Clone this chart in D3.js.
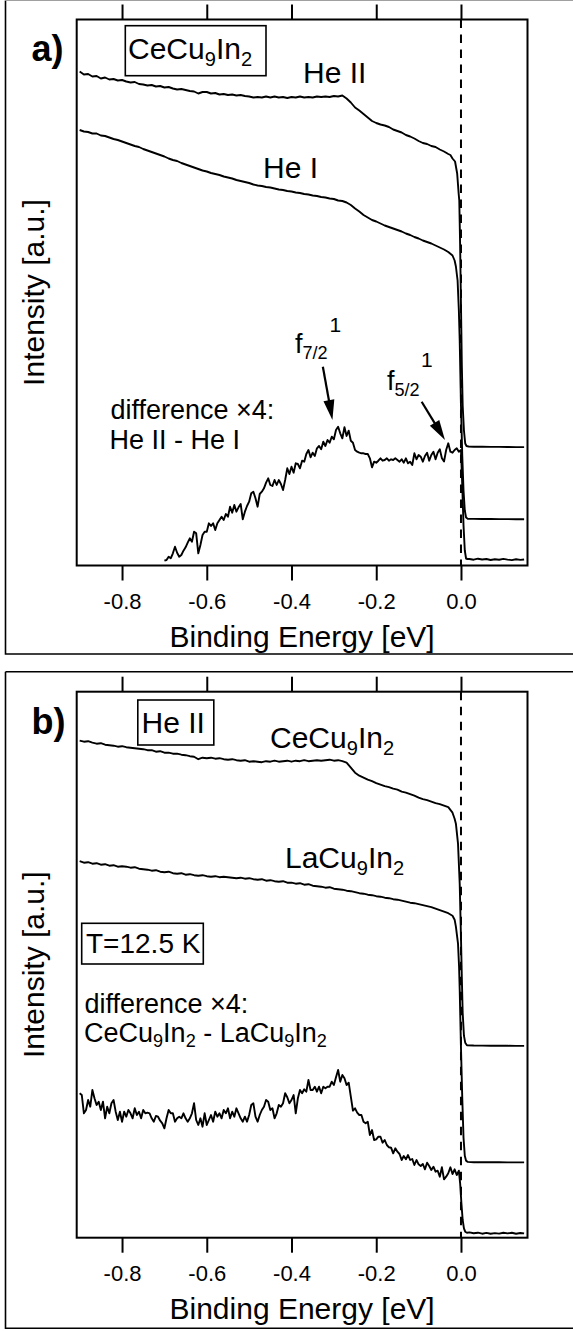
<!DOCTYPE html>
<html><head><meta charset="utf-8">
<script src="https://cdn.jsdelivr.net/npm/d3@7"></script>
<style>
html,body{margin:0;padding:0;background:#fff;}
svg{display:block;font-family:"Liberation Sans",Arial,Helvetica,sans-serif;}
text{white-space:pre;fill:#000;}
</style></head><body>
<svg id="chart" width="573" height="1331"></svg>
<script>
// ---------------- DATA ----------------
const energyDomain = [-0.907, 0.157];
const energyTicks = [-0.8, -0.6, -0.4, -0.2, 0.0];
const intensityDomain = [0, 546];

// Panel a: CeCu9In2, He II spectrum
const aHeII = [[-0.90,494],[-0.89,491],[-0.88,491.5],[-0.87,489],[-0.86,489.5],[-0.85,487],[-0.84,488],[-0.83,486],[-0.82,486.5],[-0.81,485],[-0.80,485.5],[-0.79,484],[-0.78,483],[-0.77,483.5],[-0.76,481.5],[-0.75,481],[-0.74,480],[-0.73,480.5],[-0.72,479],[-0.71,479.5],[-0.70,478],[-0.69,478.5],[-0.68,477],[-0.67,476],[-0.66,476.5],[-0.65,475.5],[-0.64,474.5],[-0.63,474],[-0.62,472],[-0.61,473.5],[-0.60,473.5],[-0.59,472],[-0.58,472.5],[-0.57,471],[-0.56,471.5],[-0.55,470.5],[-0.54,471],[-0.53,470],[-0.52,470.5],[-0.51,469.5],[-0.50,469],[-0.49,468],[-0.48,468.5],[-0.47,468],[-0.46,469],[-0.45,468],[-0.44,469],[-0.43,468],[-0.42,468.5],[-0.41,467.5],[-0.40,468.5],[-0.39,468],[-0.38,469],[-0.37,468],[-0.36,468.5],[-0.35,468],[-0.34,469],[-0.33,468.5],[-0.32,469],[-0.31,468.5],[-0.30,469.5],[-0.29,469],[-0.28,470],[-0.27,467],[-0.26,463],[-0.25,458],[-0.24,455],[-0.23,451.5],[-0.22,448],[-0.21,444.5],[-0.20,442.5],[-0.19,441],[-0.18,440],[-0.17,438.5],[-0.16,436],[-0.15,434.5],[-0.14,433],[-0.13,430.5],[-0.12,429],[-0.11,427],[-0.10,424.5],[-0.09,422.5],[-0.08,421.5],[-0.07,419.5],[-0.06,418.5],[-0.05,416],[-0.04,414],[-0.03,411.5],[-0.025,410.5],[-0.02,407],[-0.014,404],[-0.009,392],[-0.0055,372],[-0.004,365],[-0.002,320],[0.000,260],[0.002,200],[0.004,160],[0.007,135],[0.010,122],[0.013,119.5],[0.018,119],[0.03,118.8],[0.05,118.8],[0.07,118.6],[0.09,118.6],[0.11,118.5],[0.13,118.4],[0.149,118.4]];

// Panel a: CeCu9In2, He I spectrum
const aHeI = [[-0.90,435.5],[-0.89,434],[-0.88,433.5],[-0.87,432],[-0.86,432],[-0.85,430],[-0.84,429.5],[-0.83,428],[-0.82,426.5],[-0.81,425.5],[-0.80,424],[-0.79,422.5],[-0.78,421],[-0.77,419.5],[-0.76,418.5],[-0.75,416.5],[-0.74,415],[-0.73,413.5],[-0.72,412],[-0.71,410.5],[-0.70,409],[-0.69,407],[-0.68,405.5],[-0.67,404.5],[-0.66,402.5],[-0.65,401],[-0.64,399.5],[-0.63,398],[-0.62,396.5],[-0.61,395],[-0.60,394],[-0.59,392.5],[-0.58,391.5],[-0.57,390.5],[-0.56,389],[-0.55,388],[-0.54,387],[-0.53,385.5],[-0.52,384.5],[-0.51,383.5],[-0.50,382.5],[-0.49,381],[-0.48,380],[-0.47,379.5],[-0.46,378.5],[-0.45,378],[-0.44,377],[-0.43,376],[-0.42,375.5],[-0.41,374.5],[-0.40,374],[-0.39,373],[-0.38,372.5],[-0.37,371.5],[-0.36,371],[-0.35,370],[-0.34,369.5],[-0.33,368.5],[-0.32,368],[-0.31,367],[-0.30,366.5],[-0.29,365],[-0.28,364.5],[-0.27,363],[-0.26,360.5],[-0.25,357],[-0.24,354],[-0.23,350.5],[-0.22,348],[-0.21,345.5],[-0.20,344],[-0.19,342],[-0.18,340],[-0.17,338.5],[-0.16,337],[-0.15,335.5],[-0.14,334],[-0.13,332],[-0.12,330.5],[-0.11,328.5],[-0.10,327],[-0.09,325],[-0.08,323.5],[-0.07,322],[-0.06,320],[-0.05,318],[-0.04,316],[-0.03,313.5],[-0.02,310],[-0.015,305],[-0.012,299],[-0.008,285],[-0.005,255],[-0.003,225],[0.000,160],[0.003,110],[0.006,75],[0.009,55],[0.012,48],[0.016,46.8],[0.03,46.6],[0.05,46.5],[0.07,46.5],[0.09,46.4],[0.11,46.4],[0.13,46.3],[0.149,46.3]];

// Panel a: difference x4 (He II - He I)
const aDiff = [[-0.700,4.8],[-0.695,5.5],[-0.690,8.8],[-0.685,7.2],[-0.680,12.2],[-0.675,18.8],[-0.670,12.8],[-0.665,8.8],[-0.660,10.5],[-0.655,14.8],[-0.650,18.2],[-0.645,22.8],[-0.640,27.2],[-0.635,23.8],[-0.630,33.8],[-0.625,32.2],[-0.620,12.2],[-0.615,20.5],[-0.610,30.5],[-0.605,33.8],[-0.600,33.8],[-0.595,42.2],[-0.590,39.5],[-0.585,42.2],[-0.580,35.5],[-0.575,42.2],[-0.570,45.5],[-0.565,48.8],[-0.560,45.5],[-0.555,51.5],[-0.550,48.8],[-0.545,58.8],[-0.540,52.8],[-0.535,60.5],[-0.530,53.8],[-0.525,58.2],[-0.520,61.5],[-0.515,46.2],[-0.510,53.8],[-0.505,59.5],[-0.500,63.8],[-0.495,72.2],[-0.490,73.8],[-0.485,67.2],[-0.480,58.8],[-0.475,71.5],[-0.470,73.8],[-0.465,77.2],[-0.460,82.8],[-0.455,87.2],[-0.450,80.5],[-0.445,79.5],[-0.440,85.5],[-0.435,80.5],[-0.430,85.5],[-0.425,81.5],[-0.420,75.5],[-0.415,85.5],[-0.410,97.2],[-0.405,91.5],[-0.400,98.8],[-0.395,92.8],[-0.390,102.2],[-0.385,101.5],[-0.380,97.2],[-0.375,104.8],[-0.370,103.8],[-0.365,111.5],[-0.360,115.5],[-0.355,108.2],[-0.350,112.8],[-0.345,109.5],[-0.340,117.2],[-0.335,119.5],[-0.330,116.2],[-0.325,123.8],[-0.320,119.5],[-0.315,125.5],[-0.310,122.8],[-0.305,128.8],[-0.300,126.2],[-0.295,135.5],[-0.290,138.8],[-0.285,132.2],[-0.280,127.2],[-0.275,138.2],[-0.270,129.5],[-0.265,134.8],[-0.260,124.8],[-0.255,122.8],[-0.250,115.5],[-0.245,113.8],[-0.240,112.8],[-0.235,112.2],[-0.230,112.2],[-0.225,111.5],[-0.220,111.5],[-0.215,107.2],[-0.210,98.2],[-0.205,103.8],[-0.200,102.8],[-0.195,104.8],[-0.190,107.2],[-0.185,104.8],[-0.180,105.5],[-0.175,107.2],[-0.170,104.8],[-0.165,106.2],[-0.160,105.5],[-0.155,107.2],[-0.150,105.5],[-0.145,103.8],[-0.140,106.2],[-0.135,102.8],[-0.130,107.2],[-0.125,102.2],[-0.120,103.8],[-0.115,100.5],[-0.110,112.2],[-0.105,106.2],[-0.100,110.5],[-0.095,108.8],[-0.090,103.8],[-0.085,109.5],[-0.080,112.8],[-0.075,104.8],[-0.070,110.5],[-0.065,113.8],[-0.060,106.2],[-0.055,112.8],[-0.050,116.2],[-0.045,107.2],[-0.040,104.0],[-0.035,115.5],[-0.030,122.2],[-0.025,113.8],[-0.020,112.8],[-0.015,115.5],[-0.010,117.2],[-0.005,113.8],[0.000,115.5],[0.003,80],[0.006,40],[0.009,15],[0.012,7],[0.015,6.5],[0.02,6.5],[0.03,5.8],[0.04,6.8],[0.05,6.0],[0.06,6.5],[0.07,5.5],[0.08,6.3],[0.09,5.8],[0.10,6.6],[0.11,5.9],[0.12,5.4],[0.13,6.2],[0.14,5.6],[0.149,6.0]];

// Panel b: He II, CeCu9In2
const bCe = [[-0.90,497],[-0.89,496],[-0.88,496.5],[-0.87,495],[-0.86,494],[-0.85,494.5],[-0.84,493],[-0.83,492.5],[-0.82,492],[-0.81,491],[-0.80,491.5],[-0.79,490.5],[-0.78,490],[-0.77,489.5],[-0.76,489],[-0.75,488.5],[-0.74,487.5],[-0.73,487.5],[-0.72,486],[-0.71,486.5],[-0.70,485],[-0.69,485],[-0.68,484],[-0.67,484],[-0.66,483],[-0.65,482.5],[-0.64,481.5],[-0.63,481],[-0.62,478.5],[-0.61,480],[-0.60,479.5],[-0.59,480],[-0.58,479],[-0.57,479.5],[-0.56,478.5],[-0.55,478],[-0.54,478.5],[-0.53,477.5],[-0.52,477],[-0.51,477.5],[-0.50,476],[-0.49,476.5],[-0.48,476],[-0.47,475.5],[-0.46,476.5],[-0.45,476],[-0.44,477],[-0.43,476],[-0.42,476.5],[-0.41,477],[-0.40,476],[-0.39,477],[-0.38,476.5],[-0.37,477.5],[-0.36,476.5],[-0.35,477],[-0.34,477.5],[-0.33,477],[-0.32,477.5],[-0.31,478],[-0.30,477],[-0.29,477.5],[-0.28,476.5],[-0.27,475],[-0.26,470],[-0.25,465],[-0.24,462],[-0.23,460],[-0.22,458],[-0.21,456.5],[-0.20,454.5],[-0.19,453],[-0.18,451.5],[-0.17,450.5],[-0.16,449],[-0.15,448],[-0.14,446],[-0.13,445],[-0.12,443.5],[-0.11,442],[-0.10,440],[-0.09,438.5],[-0.08,437.5],[-0.07,436],[-0.06,434.5],[-0.05,433.5],[-0.04,432],[-0.03,430.5],[-0.02,425],[-0.015,419],[-0.012,414],[-0.007,394],[-0.003,354],[0.000,300],[0.002,260],[0.004,225],[0.007,202],[0.010,195],[0.014,192.5],[0.03,192.2],[0.05,192.1],[0.07,192],[0.09,192],[0.11,191.9],[0.13,191.8],[0.149,191.8]];

// Panel b: He II, LaCu9In2
const bLa = [[-0.90,376.5],[-0.89,375],[-0.88,375.5],[-0.87,374],[-0.86,374.5],[-0.85,373],[-0.84,373.5],[-0.83,372],[-0.82,372.5],[-0.81,371],[-0.80,371.5],[-0.79,371],[-0.78,370],[-0.77,370.5],[-0.76,369],[-0.75,368.5],[-0.74,368],[-0.73,367],[-0.72,367.5],[-0.71,366],[-0.70,365.5],[-0.69,366],[-0.68,364.5],[-0.67,364],[-0.66,364.5],[-0.65,363],[-0.64,363.5],[-0.63,362.5],[-0.62,362],[-0.61,362.5],[-0.60,361.5],[-0.59,361],[-0.58,361.5],[-0.57,360.5],[-0.56,361],[-0.55,360.5],[-0.54,360],[-0.53,359.5],[-0.52,360],[-0.51,359],[-0.50,359.5],[-0.49,358.5],[-0.48,358],[-0.47,358.5],[-0.46,357],[-0.45,357.5],[-0.44,356.5],[-0.43,356],[-0.42,356.5],[-0.41,355],[-0.40,355],[-0.39,354],[-0.38,354.5],[-0.37,353],[-0.36,353.5],[-0.35,352],[-0.34,351.5],[-0.33,351],[-0.32,350],[-0.31,350.5],[-0.30,349],[-0.29,348.5],[-0.28,348],[-0.27,347],[-0.26,346.5],[-0.25,345.5],[-0.24,344.5],[-0.23,344],[-0.22,343],[-0.21,342.5],[-0.20,341.5],[-0.19,341],[-0.18,340],[-0.17,339.5],[-0.16,338.5],[-0.15,338],[-0.14,337],[-0.13,336],[-0.12,335],[-0.11,334.5],[-0.10,333.5],[-0.09,332.5],[-0.08,331.5],[-0.07,330.5],[-0.06,329],[-0.05,327.5],[-0.04,326],[-0.03,324.5],[-0.02,322],[-0.015,318],[-0.012,311],[-0.007,294],[-0.0045,271],[-0.003,248],[0.000,190],[0.003,140],[0.006,100],[0.009,82],[0.012,77],[0.016,75.8],[0.03,75.5],[0.05,75.5],[0.07,75.4],[0.09,75.4],[0.11,75.3],[0.13,75.3],[0.149,75.3]];

// Panel b: difference x4 (CeCu9In2 - LaCu9In2)
const bDiff = [[-0.900,144.4],[-0.895,142.7],[-0.890,124.4],[-0.885,127.7],[-0.880,137.7],[-0.875,131.0],[-0.870,147.7],[-0.865,139.4],[-0.860,132.7],[-0.855,136.0],[-0.850,127.7],[-0.845,136.0],[-0.840,119.4],[-0.835,131.0],[-0.830,124.4],[-0.825,134.4],[-0.820,137.7],[-0.815,126.0],[-0.810,117.7],[-0.805,126.0],[-0.800,116.0],[-0.795,126.0],[-0.790,121.0],[-0.785,127.7],[-0.780,124.4],[-0.775,119.4],[-0.770,129.4],[-0.765,122.7],[-0.760,126.0],[-0.755,119.4],[-0.750,127.7],[-0.745,124.4],[-0.740,125.0],[-0.735,124.4],[-0.730,119.4],[-0.725,116.0],[-0.720,121.7],[-0.715,121.0],[-0.710,117.0],[-0.705,114.4],[-0.700,109.4],[-0.695,119.4],[-0.690,127.7],[-0.685,124.4],[-0.680,124.4],[-0.675,116.0],[-0.670,119.4],[-0.665,121.0],[-0.660,119.4],[-0.655,124.4],[-0.650,119.4],[-0.645,116.0],[-0.640,119.4],[-0.635,124.4],[-0.630,134.4],[-0.625,117.7],[-0.620,112.7],[-0.615,119.4],[-0.610,111.0],[-0.605,124.4],[-0.600,112.7],[-0.595,117.7],[-0.590,122.7],[-0.585,116.0],[-0.580,126.0],[-0.575,121.0],[-0.570,124.4],[-0.565,119.4],[-0.560,127.7],[-0.555,124.4],[-0.550,129.4],[-0.545,119.4],[-0.540,126.0],[-0.535,121.0],[-0.530,129.4],[-0.525,124.4],[-0.520,119.4],[-0.515,116.0],[-0.510,121.0],[-0.505,116.0],[-0.500,122.7],[-0.495,132.7],[-0.490,134.4],[-0.485,121.0],[-0.480,116.0],[-0.475,122.7],[-0.470,127.7],[-0.465,131.0],[-0.460,137.7],[-0.455,136.0],[-0.450,127.7],[-0.445,129.4],[-0.440,119.4],[-0.435,124.4],[-0.430,132.7],[-0.425,131.0],[-0.420,134.4],[-0.415,144.4],[-0.410,140.4],[-0.405,134.4],[-0.400,137.7],[-0.395,142.7],[-0.390,124.4],[-0.385,139.4],[-0.380,147.7],[-0.375,144.4],[-0.370,148.4],[-0.365,146.0],[-0.360,157.7],[-0.355,147.7],[-0.350,147.7],[-0.345,151.0],[-0.340,146.0],[-0.335,151.0],[-0.330,144.4],[-0.325,151.0],[-0.320,149.4],[-0.315,151.0],[-0.310,151.0],[-0.305,156.0],[-0.300,152.7],[-0.295,160.4],[-0.290,167.7],[-0.285,156.0],[-0.280,162.7],[-0.275,159.4],[-0.270,152.7],[-0.265,155.0],[-0.260,141.0],[-0.255,127.0],[-0.250,129.4],[-0.245,125.0],[-0.240,122.7],[-0.235,122.7],[-0.230,116.0],[-0.225,114.4],[-0.220,116.0],[-0.215,102.7],[-0.210,107.7],[-0.205,97.7],[-0.200,98.4],[-0.195,101.0],[-0.190,101.0],[-0.185,95.0],[-0.180,97.7],[-0.175,92.7],[-0.170,90.4],[-0.165,90.0],[-0.160,84.4],[-0.155,89.4],[-0.150,86.0],[-0.145,83.7],[-0.140,77.7],[-0.135,81.7],[-0.130,78.4],[-0.125,82.7],[-0.120,77.7],[-0.115,78.7],[-0.110,72.7],[-0.105,77.7],[-0.100,73.4],[-0.095,71.7],[-0.090,73.7],[-0.085,68.4],[-0.080,75.0],[-0.075,71.7],[-0.070,67.7],[-0.065,71.0],[-0.060,66.0],[-0.055,67.0],[-0.050,61.0],[-0.045,70.4],[-0.040,58.4],[-0.035,61.0],[-0.030,64.4],[-0.025,70.4],[-0.020,63.7],[-0.015,68.4],[-0.010,62.7],[-0.005,67.0],[-0.002,54.4],[0.001,34.4],[0.004,17.7],[0.007,9.4],[0.010,6.0],[0.014,5.0],[0.02,5.3],[0.03,4.4],[0.04,5.0],[0.05,4.0],[0.06,4.8],[0.07,3.9],[0.08,4.6],[0.09,4.1],[0.10,5.0],[0.11,4.3],[0.12,4.9],[0.13,4.0],[0.14,4.7],[0.149,4.3]];

// Arrow annotations (panel a), in data units: [from, to]
const arrowF72 = [[-0.326, 198.8], [-0.3034, 145.5]];
const arrowF52 = [[-0.0928, 163.8], [-0.0378, 125.5]];

// ---------------- DRAWING ----------------
const svg = d3.select("#chart");
const FONT_AX = 30, FONT_TICK = 22;
const plotLeft = 76.7, plotRight = 527.5;
const x = d3.scaleLinear().domain(energyDomain).range([plotLeft, plotRight]);

function richText(g, tx, ty, parts, size, opts) {
  const t = g.append("text").attr("x", tx).attr("y", ty).style("font-size", size + "px");
  if (opts && opts.bold) t.style("font-weight", "bold");
  let shift = 0;
  parts.forEach(([s, sub]) => {
    const target = sub ? size * 0.21 : 0;
    const sp = t.append("tspan").attr("dy", target - shift).text(s);
    if (sub) sp.style("font-size", (size * 0.67) + "px");
    shift = target;
  });
  return t;
}

function drawArrow(g, y, a) {
  const x0 = x(a[0][0]), y0 = y(a[0][1]), x1 = x(a[1][0]), y1 = y(a[1][1]);
  const dx = x1 - x0, dy = y1 - y0, L = Math.hypot(dx, dy);
  const ux = dx / L, uy = dy / L, hl = 20, hw = 5.5;
  const bx = x1 - ux * hl, by = y1 - uy * hl;
  g.append("line").attr("x1", x0).attr("y1", y0).attr("x2", bx + ux * 2).attr("y2", by + uy * 2)
    .attr("stroke", "#000").attr("stroke-width", 2.2);
  g.append("path").attr("d", `M${x1},${y1}L${bx - uy * hw},${by + ux * hw}L${bx + uy * hw},${by - ux * hw}Z`)
    .attr("fill", "#000");
}

const panels = [
  { frameTop: 0.5, frameBottom: 654, plotTop: 19.5, plotBottom: 565.5,
    curves: [aHeII, aHeI, aDiff], letter: "a)", letterY: 61, topColor: "#a0a0a0" },
  { frameTop: 671.7, frameBottom: 1328.3, plotTop: 691.7, plotBottom: 1237.7,
    curves: [bCe, bLa, bDiff], letter: "b)", letterY: 733.5, topColor: "#000" }
];

const line = d3.line();

panels.forEach((p, i) => {
  const g = svg.append("g");
  const y = d3.scaleLinear().domain(intensityDomain).range([p.plotBottom, p.plotTop]);
  p.y = y;
  // outer frame (left, bottom and top edges; right edge lies outside the picture)
  g.append("path").attr("d", `M600,${p.frameBottom}H5.5V${p.frameTop}`)
    .attr("fill", "none").attr("stroke", "#000").attr("stroke-width", 1.6);
  g.append("line").attr("x1", 5.5).attr("x2", 600).attr("y1", p.frameTop).attr("y2", p.frameTop)
    .attr("stroke", p.topColor).attr("stroke-width", i === 0 ? 1.2 : 1.6);

  // Fermi level dashed line
  g.append("line").attr("x1", x(0)).attr("x2", x(0)).attr("y1", p.plotTop).attr("y2", p.plotBottom)
    .attr("stroke", "#000").attr("stroke-width", 2).attr("stroke-dasharray", "8.5,6.5");

  // curves
  p.curves.forEach(c => {
    g.append("path").attr("d", line.x(d => x(d[0])).y(d => y(d[1]))(c))
      .attr("fill", "none").attr("stroke", "#000").attr("stroke-width", 1.9)
      .attr("stroke-linejoin", "round");
  });

  // plot frame
  g.append("rect").attr("x", plotLeft).attr("y", p.plotTop)
    .attr("width", plotRight - plotLeft).attr("height", p.plotBottom - p.plotTop)
    .attr("fill", "none").attr("stroke", "#000").attr("stroke-width", 2);

  // axes
  const bottom = g.append("g").attr("transform", `translate(0,${p.plotBottom})`)
    .call(d3.axisBottom(x).tickValues(energyTicks).tickSize(15).tickPadding(13)
      .tickFormat(d => d.toFixed(1)));
  const top = g.append("g").attr("transform", `translate(0,${p.plotTop})`)
    .call(d3.axisTop(x).tickValues(energyTicks).tickSize(15).tickFormat(""));
  [bottom, top].forEach(ax => {
    ax.select(".domain").remove();
    ax.selectAll(".tick line").attr("stroke", "#000").attr("stroke-width", 2);
    ax.selectAll(".tick text").style("font-size", FONT_TICK + "px")
      .style("font-family", '"Liberation Sans",Arial,sans-serif').attr("fill", "#000");
  });

  // axis titles
  g.append("text").attr("x", (plotLeft + plotRight) / 2).attr("y", p.plotBottom + 81.5)
    .attr("text-anchor", "middle").style("font-size", FONT_AX + "px").text("Binding Energy [eV]");
  g.append("text").attr("transform", `translate(43.5,${(p.plotTop + p.plotBottom) / 2}) rotate(-90)`)
    .attr("text-anchor", "middle").style("font-size", FONT_AX + "px").text("Intensity [a.u.]");

  // panel letter
  g.append("text").attr("x", 31.5).attr("y", p.letterY).style("font-size", "36px")
    .style("font-weight", "bold").text(p.letter);
});

// ----- panel a annotations -----
{
  const g = svg.append("g");
  const y = panels[0].y;
  g.append("rect").attr("x", 125.3).attr("y", 25.7).attr("width", 140.7).attr("height", 50)
    .attr("fill", "none").attr("stroke", "#000").attr("stroke-width", 1.6);
  richText(g, 128, 59.3, [["CeCu", 0], ["9", 1], ["In", 0], ["2", 1]], 30);
  g.append("text").attr("x", 303).attr("y", 83.3).style("font-size", "30px").text("He II");
  g.append("text").attr("x", 263).attr("y", 178.3).style("font-size", "30px").text("He I");
  g.append("text").attr("x", 110.5).attr("y", 419.3).style("font-size", "27px").text("difference \u00d74:");
  g.append("text").attr("x", 109.5).attr("y", 449.3).style("font-size", "27px").text("He II - He I");
  // f 7/2 label
  richText(g, 295, 353, [["f", 0], ["7/2", 1]], 27);
  g.append("text").attr("x", 329.5).attr("y", 331.7).style("font-size", "21px").text("1");
  // f 5/2 label
  richText(g, 387, 390, [["f", 0], ["5/2", 1]], 27);
  g.append("text").attr("x", 421).attr("y", 367).style("font-size", "21px").text("1");
  drawArrow(g, y, arrowF72);
  drawArrow(g, y, arrowF52);
}

// ----- panel b annotations -----
{
  const g = svg.append("g");
  g.append("rect").attr("x", 137.8).attr("y", 700).attr("width", 76).attr("height", 45)
    .attr("fill", "none").attr("stroke", "#000").attr("stroke-width", 1.6);
  g.append("text").attr("x", 141.5).attr("y", 732.7).style("font-size", "30px").text("He II");
  richText(g, 270, 748.3, [["CeCu", 0], ["9", 1], ["In", 0], ["2", 1]], 30);
  richText(g, 285, 868.3, [["LaCu", 0], ["9", 1], ["In", 0], ["2", 1]], 30);
  g.append("rect").attr("x", 81.7).attr("y", 923.3).attr("width", 121.6).attr("height", 40.7)
    .attr("fill", "none").attr("stroke", "#000").attr("stroke-width", 1.6);
  g.append("text").attr("x", 86).attr("y", 953.3).style("font-size", "28px").text("T=12.5 K");
  g.append("text").attr("x", 84.5).attr("y", 1013.3).style("font-size", "27px").text("difference \u00d74:");
  richText(g, 84, 1041.7, [["CeCu", 0], ["9", 1], ["In", 0], ["2", 1], [" - LaCu", 0], ["9", 1], ["In", 0], ["2", 1]], 27);
}
</script>
</body></html>
